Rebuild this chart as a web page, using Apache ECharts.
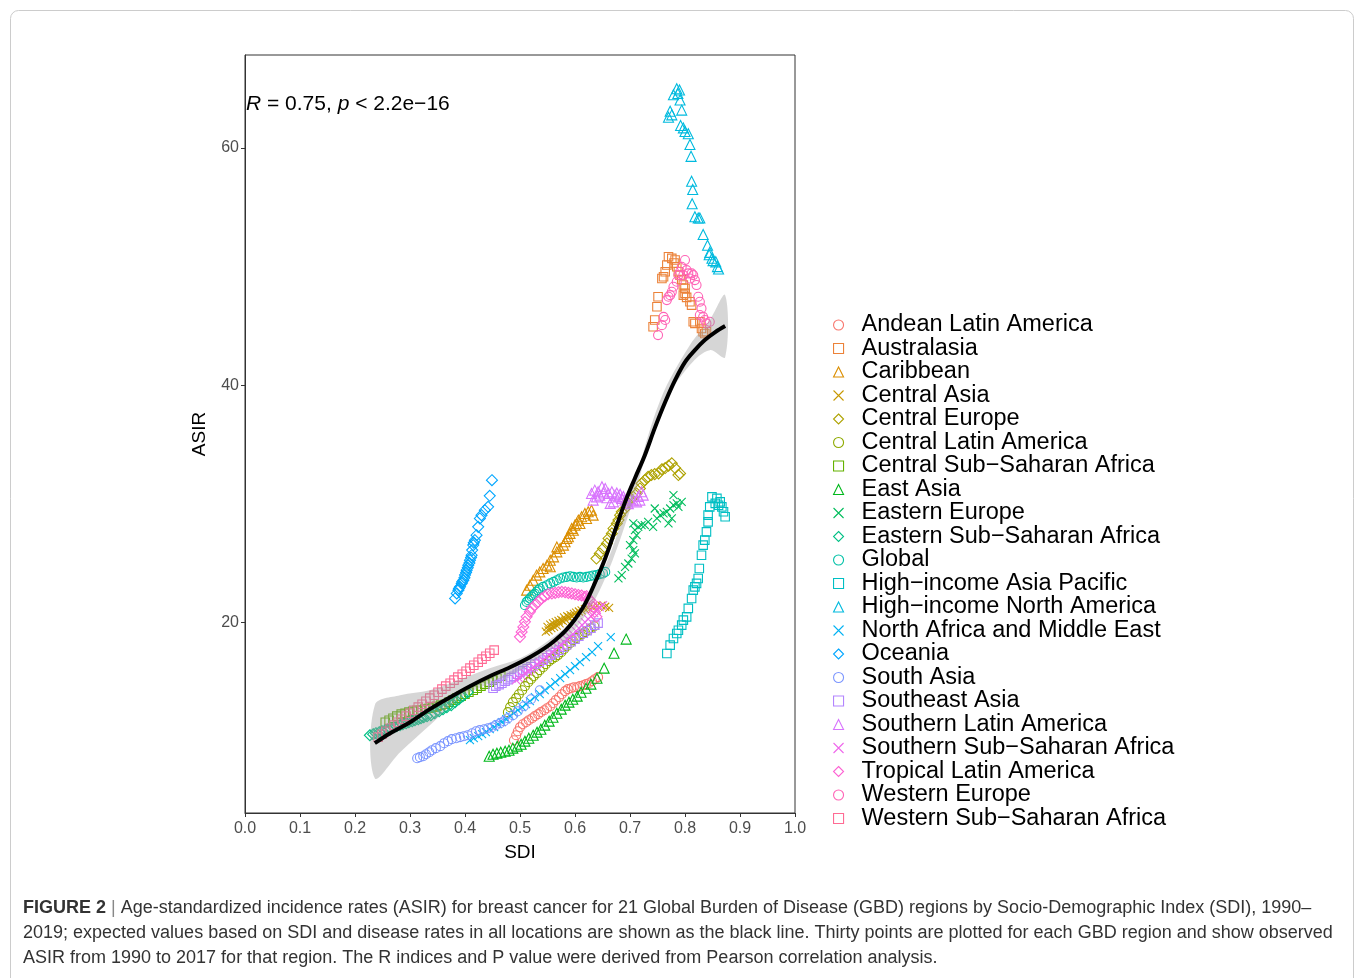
<!DOCTYPE html>
<html>
<head>
<meta charset="utf-8">
<script src="https://cdn.jsdelivr.net/npm/echarts@6/dist/echarts.min.js"></script>
<style>
html,body{margin:0;padding:0;background:#fff;}
#chart{width:1355px;height:978px;}
</style>
</head>
<body>
<div id="chart"></div>
<script>
// ---------------- DATA (SDI, ASIR) ----------------
const regionNames = [
  "Andean Latin America","Australasia","Caribbean","Central Asia","Central Europe",
  "Central Latin America","Central Sub\u2212Saharan Africa","East Asia","Eastern Europe",
  "Eastern Sub\u2212Saharan Africa","Global","High\u2212income Asia Pacific",
  "High\u2212income North America","North Africa and Middle East","Oceania","South Asia",
  "Southeast Asia","Southern Latin America","Southern Sub\u2212Saharan Africa",
  "Tropical Latin America","Western Europe","Western Sub\u2212Saharan Africa"
];

const andeanLatinAmerica = [[0.489,10.04],[0.493,10.46],[0.496,10.80],[0.500,11.14],[0.505,11.39],[0.511,11.56],[0.516,11.73],[0.522,11.90],[0.527,12.07],[0.533,12.24],[0.538,12.41],[0.544,12.57],[0.549,12.74],[0.555,12.91],[0.560,13.16],[0.565,13.42],[0.571,13.67],[0.576,13.92],[0.582,14.18],[0.587,14.35],[0.593,14.43],[0.598,14.51],[0.604,14.51],[0.609,14.60],[0.615,14.68],[0.620,14.77],[0.625,14.85],[0.631,15.02],[0.636,15.19],[0.642,15.36]];
const australasia = [[0.770,50.83],[0.776,50.69],[0.782,50.55],[0.767,50.13],[0.764,49.56],[0.761,49.14],[0.758,49.0],[0.785,49.98],[0.788,49.56],[0.791,49.28],[0.797,48.44],[0.800,48.16],[0.800,47.74],[0.797,47.59],[0.751,47.45],[0.749,46.61],[0.745,45.49],[0.742,44.92],[0.809,47.03],[0.812,46.75],[0.815,45.34],[0.818,45.21],[0.827,45.34],[0.830,44.78],[0.833,44.50],[0.836,44.36],[0.839,44.50],[0.780,50.3],[0.794,48.9],[0.803,47.4]];
const caribbean = [[0.512,22.70],[0.518,23.12],[0.524,23.54],[0.530,23.97],[0.536,24.24],[0.542,24.53],[0.549,24.81],[0.555,25.23],[0.561,25.51],[0.567,25.93],[0.573,26.22],[0.579,26.50],[0.585,27.06],[0.591,27.49],[0.594,27.91],[0.600,28.19],[0.603,28.33],[0.606,28.61],[0.612,28.89],[0.618,29.17],[0.624,29.31],[0.630,29.45],[0.633,29.03],[0.621,28.75],[0.609,28.33],[0.597,27.76],[0.588,27.20],[0.582,26.78],[0.567,26.35],[0.555,24.67]];
const centralAsia = [[0.547,19.2],[0.550,19.6],[0.552,19.3],[0.555,19.8],[0.557,19.5],[0.560,19.9],[0.562,19.6],[0.565,20.0],[0.567,19.7],[0.570,20.1],[0.572,19.9],[0.575,20.2],[0.578,20.1],[0.580,20.4],[0.583,20.2],[0.586,20.5],[0.589,20.4],[0.592,20.6],[0.595,20.5],[0.598,20.7],[0.602,20.8],[0.607,20.9],[0.612,21.0],[0.618,21.1],[0.624,21.2],[0.632,21.3],[0.640,21.4],[0.648,21.4],[0.655,21.3],[0.662,21.2]];
const centralEurope = [[0.639,25.37],[0.645,25.80],[0.651,26.22],[0.658,26.64],[0.661,27.06],[0.667,27.49],[0.670,27.91],[0.676,28.33],[0.679,28.61],[0.682,29.03],[0.685,29.31],[0.691,29.59],[0.694,30.02],[0.700,30.30],[0.706,30.57],[0.712,30.86],[0.718,31.28],[0.721,31.70],[0.727,31.98],[0.733,32.26],[0.739,32.41],[0.745,32.49],[0.752,32.55],[0.758,32.9],[0.764,33.0],[0.770,33.2],[0.776,33.4],[0.782,33.0],[0.788,32.41],[0.791,32.55]];
const centralLatinAmerica = [[0.478,12.41],[0.482,12.83],[0.487,13.25],[0.493,13.59],[0.498,13.92],[0.504,14.26],[0.509,14.60],[0.515,14.94],[0.520,15.19],[0.525,15.44],[0.531,15.70],[0.536,15.95],[0.542,16.20],[0.547,16.46],[0.553,16.71],[0.558,16.88],[0.564,17.05],[0.569,17.22],[0.575,17.47],[0.580,17.72],[0.585,17.97],[0.591,18.23],[0.596,18.48],[0.602,18.65],[0.607,18.82],[0.613,18.99],[0.618,19.16],[0.624,19.32],[0.629,19.49],[0.635,19.66]];
const centralSubSaharanAfrica = [[0.255,11.56],[0.262,11.73],[0.269,11.90],[0.276,12.07],[0.284,12.24],[0.291,12.32],[0.298,12.41],[0.305,12.49],[0.313,12.57],[0.320,12.57],[0.327,12.66],[0.335,12.74],[0.342,12.83],[0.349,12.91],[0.356,13.0],[0.364,13.08],[0.371,13.25],[0.378,13.42],[0.385,13.59],[0.393,13.76],[0.400,13.92],[0.407,14.09],[0.415,14.26],[0.422,14.43],[0.429,14.60],[0.436,14.77],[0.444,14.94],[0.451,15.11],[0.458,15.27],[0.465,15.44]];
const eastAsia = [[0.444,8.69],[0.451,8.86],[0.458,8.95],[0.465,9.03],[0.473,9.11],[0.480,9.20],[0.487,9.37],[0.495,9.54],[0.502,9.70],[0.509,9.96],[0.516,10.21],[0.524,10.46],[0.531,10.72],[0.538,10.97],[0.545,11.31],[0.553,11.65],[0.560,11.98],[0.567,12.32],[0.575,12.66],[0.582,13.0],[0.589,13.25],[0.596,13.50],[0.604,13.76],[0.611,14.09],[0.620,14.43],[0.629,14.77],[0.640,15.27],[0.653,16.12],[0.671,17.38],[0.693,18.57]];
const easternEurope = [[0.679,23.69],[0.685,23.97],[0.691,24.67],[0.697,24.95],[0.703,25.37],[0.709,25.80],[0.706,26.08],[0.700,26.50],[0.706,26.92],[0.712,27.34],[0.709,27.76],[0.715,28.04],[0.721,28.19],[0.706,28.33],[0.727,28.19],[0.733,28.46],[0.742,28.04],[0.749,28.75],[0.755,29.03],[0.761,29.17],[0.767,29.31],[0.773,29.59],[0.779,29.87],[0.785,30.02],[0.788,29.73],[0.794,30.15],[0.779,30.72],[0.776,28.75],[0.770,28.33],[0.745,29.59]];
const easternSubSaharanAfrica = [[0.227,10.46],[0.233,10.55],[0.238,10.63],[0.244,10.72],[0.249,10.80],[0.255,10.89],[0.260,10.97],[0.265,11.05],[0.271,11.14],[0.276,11.22],[0.282,11.31],[0.287,11.39],[0.293,11.48],[0.298,11.56],[0.304,11.65],[0.309,11.73],[0.315,11.81],[0.320,11.90],[0.325,11.98],[0.331,12.07],[0.338,12.15],[0.345,12.32],[0.353,12.49],[0.360,12.66],[0.367,12.83],[0.375,13.0],[0.382,13.25],[0.389,13.50],[0.396,13.76],[0.405,14.09]];
const globalData = [[0.509,21.43],[0.512,21.71],[0.518,22.0],[0.524,22.28],[0.530,22.56],[0.536,22.84],[0.542,22.98],[0.549,23.12],[0.555,23.27],[0.561,23.40],[0.567,23.54],[0.573,23.69],[0.579,23.77],[0.585,23.82],[0.591,23.88],[0.597,23.82],[0.603,23.77],[0.609,23.82],[0.615,23.77],[0.621,23.82],[0.627,23.88],[0.633,23.94],[0.639,23.97],[0.645,24.05],[0.651,24.11],[0.655,24.24],[0.515,21.85],[0.521,22.15],[0.527,22.4],[0.533,22.7]];
const highIncomeAsiaPacific = [[0.849,30.57],[0.858,30.44],[0.864,30.15],[0.855,30.02],[0.867,29.73],[0.870,29.31],[0.873,28.89],[0.845,29.73],[0.842,29.03],[0.842,28.46],[0.839,27.62],[0.836,26.92],[0.833,26.50],[0.830,25.65],[0.826,24.53],[0.824,23.69],[0.821,23.27],[0.818,22.98],[0.815,22.70],[0.812,22.0],[0.806,21.16],[0.803,20.45],[0.797,20.17],[0.794,19.75],[0.788,19.32],[0.785,19.05],[0.779,18.62],[0.773,18.06],[0.767,17.36],[0.861,29.87]];
const highIncomeNorthAmerica = [[0.785,65.0],[0.790,64.9],[0.779,64.5],[0.791,64.05],[0.773,63.1],[0.770,62.6],[0.776,62.8],[0.794,63.2],[0.792,61.9],[0.797,61.7],[0.800,61.4],[0.806,61.2],[0.809,60.3],[0.811,59.3],[0.812,57.2],[0.814,56.5],[0.813,55.3],[0.818,54.2],[0.824,54.1],[0.827,54.1],[0.833,52.7],[0.841,51.8],[0.844,51.0],[0.849,50.7],[0.851,50.5],[0.856,50.4],[0.859,50.0],[0.861,49.8],[0.787,64.6],[0.845,51.2]];
const northAfricaMiddleEast = [[0.409,10.04],[0.416,10.21],[0.424,10.38],[0.431,10.55],[0.438,10.72],[0.445,10.97],[0.453,11.14],[0.460,11.39],[0.467,11.56],[0.475,11.81],[0.482,12.07],[0.489,12.32],[0.496,12.57],[0.504,12.83],[0.511,13.08],[0.518,13.33],[0.527,13.67],[0.536,13.92],[0.545,14.26],[0.555,14.60],[0.564,14.94],[0.573,15.27],[0.582,15.61],[0.591,15.95],[0.600,16.29],[0.609,16.62],[0.620,17.05],[0.631,17.47],[0.642,17.97],[0.665,18.73]];
const oceania = [[0.449,31.98],[0.445,30.66],[0.442,29.73],[0.436,29.45],[0.430,29.03],[0.427,28.75],[0.424,28.04],[0.421,27.34],[0.418,26.92],[0.415,26.50],[0.413,26.08],[0.412,25.65],[0.409,25.23],[0.406,24.81],[0.403,24.39],[0.400,23.97],[0.397,23.54],[0.394,23.27],[0.391,22.98],[0.388,22.70],[0.385,22.42],[0.382,22.0],[0.416,26.7],[0.411,25.45],[0.408,25.0],[0.405,24.6],[0.402,24.2],[0.399,23.75],[0.395,23.4],[0.389,22.85]];
const southAsia = [[0.313,8.52],[0.318,8.61],[0.324,8.69],[0.329,8.86],[0.335,9.03],[0.340,9.20],[0.347,9.37],[0.355,9.54],[0.362,9.79],[0.369,9.96],[0.376,10.13],[0.384,10.21],[0.391,10.30],[0.398,10.38],[0.405,10.46],[0.413,10.63],[0.420,10.80],[0.427,10.89],[0.435,10.97],[0.442,11.05],[0.449,11.14],[0.456,11.31],[0.464,11.48],[0.471,11.65],[0.478,11.90],[0.487,12.15],[0.496,12.49],[0.507,12.91],[0.520,13.50],[0.536,14.26]];
const southeastAsia = [[0.451,14.43],[0.456,14.60],[0.462,14.73],[0.467,14.85],[0.473,15.02],[0.478,15.15],[0.484,15.32],[0.489,15.44],[0.495,15.61],[0.500,15.78],[0.505,15.91],[0.513,16.08],[0.520,16.24],[0.527,16.46],[0.535,16.62],[0.542,16.79],[0.549,17.0],[0.556,17.22],[0.564,17.43],[0.571,17.64],[0.578,17.89],[0.585,18.10],[0.593,18.35],[0.600,18.57],[0.607,18.82],[0.615,19.07],[0.622,19.28],[0.629,19.49],[0.636,19.75],[0.642,19.92]];
const southernLatinAmerica = [[0.630,30.86],[0.636,31.14],[0.649,31.42],[0.655,31.28],[0.661,30.86],[0.667,31.0],[0.673,30.72],[0.679,30.57],[0.685,30.44],[0.691,30.30],[0.694,30.15],[0.639,30.57],[0.664,30.02],[0.670,30.15],[0.645,30.72],[0.721,31.0],[0.724,30.72],[0.712,30.15],[0.633,30.3],[0.642,31.0],[0.652,30.9],[0.658,30.5],[0.676,30.9],[0.682,30.8],[0.688,30.6],[0.700,30.4],[0.706,30.3],[0.715,30.6],[0.718,30.3],[0.697,30.0]];
const southernSubSaharanAfrica = [[0.493,15.11],[0.498,15.27],[0.504,15.44],[0.509,15.70],[0.515,15.86],[0.520,16.03],[0.525,16.20],[0.531,16.46],[0.536,16.62],[0.542,16.79],[0.547,17.05],[0.553,17.22],[0.558,17.47],[0.564,17.64],[0.569,17.89],[0.575,18.06],[0.580,18.31],[0.585,18.57],[0.591,18.73],[0.596,18.99],[0.602,19.24],[0.607,19.49],[0.613,19.75],[0.618,20.0],[0.624,20.25],[0.629,20.51],[0.635,20.76],[0.640,21.01],[0.645,21.27],[0.651,21.43]];
const tropicalLatinAmerica = [[0.500,18.76],[0.503,19.18],[0.506,19.60],[0.509,20.03],[0.512,20.45],[0.518,20.87],[0.521,21.16],[0.527,21.43],[0.533,21.71],[0.539,22.0],[0.545,22.19],[0.551,22.36],[0.558,22.42],[0.564,22.47],[0.570,22.53],[0.576,22.56],[0.582,22.53],[0.588,22.47],[0.594,22.42],[0.600,22.36],[0.606,22.30],[0.612,22.25],[0.618,22.14],[0.624,22.0],[0.630,21.71],[0.633,21.29],[0.636,20.87],[0.639,20.45],[0.627,21.86],[0.621,22.19]];
const westernEurope = [[0.800,50.55],[0.794,49.98],[0.791,49.56],[0.788,49.28],[0.797,49.28],[0.806,49.43],[0.812,49.43],[0.815,49.28],[0.809,49.0],[0.818,48.86],[0.821,48.44],[0.785,48.72],[0.779,48.30],[0.776,47.87],[0.773,47.59],[0.770,47.45],[0.767,47.17],[0.824,47.45],[0.827,47.03],[0.830,46.47],[0.827,45.91],[0.833,45.76],[0.836,45.49],[0.839,45.21],[0.761,45.76],[0.758,45.06],[0.751,44.22],[0.764,45.49],[0.845,45.34],[0.803,49.70]];
const westernSubSaharanAfrica = [[0.242,10.30],[0.249,10.55],[0.256,10.80],[0.264,11.05],[0.271,11.31],[0.278,11.56],[0.285,11.81],[0.293,12.07],[0.300,12.32],[0.307,12.57],[0.315,12.83],[0.322,13.08],[0.329,13.33],[0.336,13.59],[0.344,13.84],[0.351,14.09],[0.358,14.35],[0.365,14.60],[0.373,14.85],[0.380,15.11],[0.387,15.36],[0.395,15.61],[0.402,15.86],[0.409,16.12],[0.416,16.37],[0.424,16.62],[0.431,16.88],[0.438,17.13],[0.445,17.38],[0.453,17.64]];

// expected-value smoother and its confidence band
const smoothLine = [[0.236,9.79],[0.264,10.63],[0.300,11.56],[0.336,12.66],[0.373,13.67],[0.409,14.60],[0.445,15.44],[0.482,16.20],[0.518,17.05],[0.545,17.81],[0.564,18.48],[0.582,19.24],[0.600,20.25],[0.618,21.52],[0.636,23.29],[0.655,25.40],[0.673,27.76],[0.691,30.13],[0.709,32.15],[0.727,34.09],[0.745,36.37],[0.764,38.57],[0.782,40.42],[0.800,41.94],[0.818,42.95],[0.836,43.80],[0.855,44.47],[0.873,44.98]];
const bandUpper = [[0.236,13.0],[0.282,13.84],[0.336,14.26],[0.391,15.19],[0.445,16.12],[0.500,16.96],[0.545,18.23],[0.591,20.0],[0.645,23.71],[0.700,30.63],[0.755,38.73],[0.809,43.38],[0.845,45.49],[0.873,47.59]];
const bandLower = [[0.236,6.84],[0.282,9.03],[0.336,11.31],[0.391,13.59],[0.445,14.85],[0.500,15.95],[0.545,17.38],[0.591,18.90],[0.645,22.70],[0.700,29.45],[0.755,37.89],[0.809,41.69],[0.845,42.95],[0.873,42.36]];

const yTicks = [20, 40, 60];

const regionData = [andeanLatinAmerica, australasia, caribbean, centralAsia, centralEurope,
  centralLatinAmerica, centralSubSaharanAfrica, eastAsia, easternEurope, easternSubSaharanAfrica,
  globalData, highIncomeAsiaPacific, highIncomeNorthAmerica, northAfricaMiddleEast, oceania,
  southAsia, southeastAsia, southernLatinAmerica, southernSubSaharanAfrica, tropicalLatinAmerica,
  westernEurope, westernSubSaharanAfrica];

// ---------------- STYLE ----------------
function hcl2hex(h, c, l) {
  const hr = h * Math.PI / 180;
  const U = c * Math.cos(hr), V = c * Math.sin(hr);
  const Xn = 95.047, Yn = 100, Zn = 108.883;
  const den = Xn + 15 * Yn + 3 * Zn;
  const un = 4 * Xn / den, vn = 9 * Yn / den;
  const Y = Yn * (l > 8 ? Math.pow((l + 16) / 116, 3) : l / 903.3);
  const u = U / (13 * l) + un, v = V / (13 * l) + vn;
  const X = Y * 9 * u / (4 * v);
  const Z = Y * (12 - 3 * u - 20 * v) / (4 * v);
  const x = X / 100, y = Y / 100, z = Z / 100;
  let r = 3.240479 * x - 1.537150 * y - 0.498535 * z;
  let g = -0.969256 * x + 1.875992 * y + 0.041556 * z;
  let b = 0.055648 * x - 0.204043 * y + 1.057311 * z;
  const gam = t => { t = t <= 0.0031308 ? 12.92 * t : 1.055 * Math.pow(t, 1 / 2.4) - 0.055; return Math.max(0, Math.min(255, Math.round(t * 255))); };
  return '#' + [gam(r), gam(g), gam(b)].map(n => n.toString(16).padStart(2, '0')).join('');
}
const nReg = regionNames.length;
const colors = regionNames.map((_, i) => hcl2hex(15 + 360 * i / nReg, 100, 65));
const crossPath = 'path://M0,0L10,10M0,10L10,0';
const shapes = ['circle', 'rect', 'triangle', crossPath, 'diamond'];
const sizes = [9, 8.5, 10, 8, 11];

const series = regionNames.map((name, i) => ({
  type: 'scatter',
  name: name,
  data: regionData[i],
  symbol: shapes[i % 5],
  symbolSize: sizes[i % 5],
  itemStyle: { color: 'rgba(0,0,0,0)', borderColor: colors[i], borderWidth: 1.1, opacity: 1 },
  emphasis: { disabled: true },
  z: 2
}));

series.push({
  type: 'custom',
  name: 'band',
  silent: true,
  z: 3,
  data: [[0.5, 20]],
  renderItem: function (params, api) {
    const pts = bandUpper.map(p => api.coord(p)).concat(bandLower.slice().reverse().map(p => api.coord(p)));
    return { type: 'polygon', shape: { points: pts, smooth: 0.35 }, style: { fill: 'rgba(153,153,153,0.4)' } };
  }
});
series.push({
  type: 'line',
  name: 'smooth',
  data: smoothLine,
  smooth: 0.35,
  showSymbol: false,
  silent: true,
  lineStyle: { color: '#000', width: 4 },
  z: 4
});

const legendData = regionNames.map((n, i) => ({
  name: n,
  icon: shapes[i % 5],
  itemStyle: { color: 'rgba(0,0,0,0)', borderColor: colors[i], borderWidth: 1.1 }
}));

const chart = echarts.init(document.getElementById('chart'), null, { renderer: 'canvas' });
chart.setOption({
  animation: false,
  backgroundColor: '#fff',
  grid: { left: 245, right: 560, top: 55, bottom: 165, show: true, borderColor: '#333', borderWidth: 1, backgroundColor: 'rgba(0,0,0,0)' },
  xAxis: {
    type: 'value', min: 0, max: 1, interval: 0.1,
    name: 'SDI', nameLocation: 'middle', nameGap: 30,
    nameTextStyle: { fontSize: 19, color: '#000', fontFamily: 'Liberation Sans' },
    axisLine: { show: true, onZero: false, lineStyle: { color: '#333', width: 1 } },
    axisTick: { show: true, length: 4, lineStyle: { color: '#333' } },
    axisLabel: { color: '#4D4D4D', fontSize: 16, margin: 8, fontFamily: 'Liberation Sans', formatter: v => v.toFixed(1) },
    splitLine: { show: false }
  },
  yAxis: {
    type: 'value', min: 3.9, max: 67.85,
    name: 'ASIR', nameLocation: 'middle', nameGap: 36, nameRotate: 90,
    nameTextStyle: { fontSize: 19, color: '#000', fontFamily: 'Liberation Sans' },
    axisLine: { show: true, onZero: false, lineStyle: { color: '#333', width: 1 } },
    axisTick: { show: true, length: 4, customValues: yTicks, lineStyle: { color: '#333' } },
    axisLabel: { color: '#4D4D4D', fontSize: 16, margin: 6, fontFamily: 'Liberation Sans', customValues: yTicks },
    splitLine: { show: false }
  },
  legend: {
    data: legendData,
    orient: 'vertical',
    left: 828, top: 308,
    itemWidth: 10, itemHeight: 10, itemGap: -0.5,
    selectedMode: false,
    itemStyle: { borderWidth: 1.1 },
    textStyle: { fontSize: 23.5, color: '#000', fontFamily: 'Liberation Sans', lineHeight: 23.5, padding: [0, 0, 0, 13] }
  },
  graphic: [
    { type: 'rect', silent: true, z: -1, shape: { x: 10.5, y: 10.5, width: 1343, height: 1010, r: 8 }, style: { fill: 'none', stroke: '#cccccc', lineWidth: 1 } },
    { type: 'text', left: 246, top: 94, z: 10, silent: true,
      style: { text: '{i|R} = 0.75, {i|p} < 2.2e\u221216', fontSize: 21, fill: '#000', fontFamily: 'Liberation Sans',
        rich: { i: { fontStyle: 'italic', fontSize: 21, fontFamily: 'Liberation Sans', fill: '#000' } } } },
    { type: 'text', left: 23, top: 899, silent: true,
      style: { text: '{b|FIGURE 2} {s||} Age-standardized incidence rates (ASIR) for breast cancer for 21 Global Burden of Disease (GBD) regions by Socio-Demographic Index (SDI), 1990\u2013',
        fontSize: 18, fill: '#333', fontFamily: 'Liberation Sans',
        rich: { b: { fontWeight: 'bold', fontSize: 18, fill: '#333', fontFamily: 'Liberation Sans' }, s: { fontSize: 18, fill: '#888', fontFamily: 'Liberation Sans' } } } },
    { type: 'text', left: 23, top: 924, silent: true,
      style: { text: '2019; expected values based on SDI and disease rates in all locations are shown as the black line. Thirty points are plotted for each GBD region and show observed',
        fontSize: 18, fill: '#333', fontFamily: 'Liberation Sans' } },
    { type: 'text', left: 23, top: 949, silent: true,
      style: { text: 'ASIR from 1990 to 2017 for that region. The R indices and P value were derived from Pearson correlation analysis.',
        fontSize: 18, fill: '#333', fontFamily: 'Liberation Sans' } }
  ],
  series: series
});
</script>
</body>
</html>
